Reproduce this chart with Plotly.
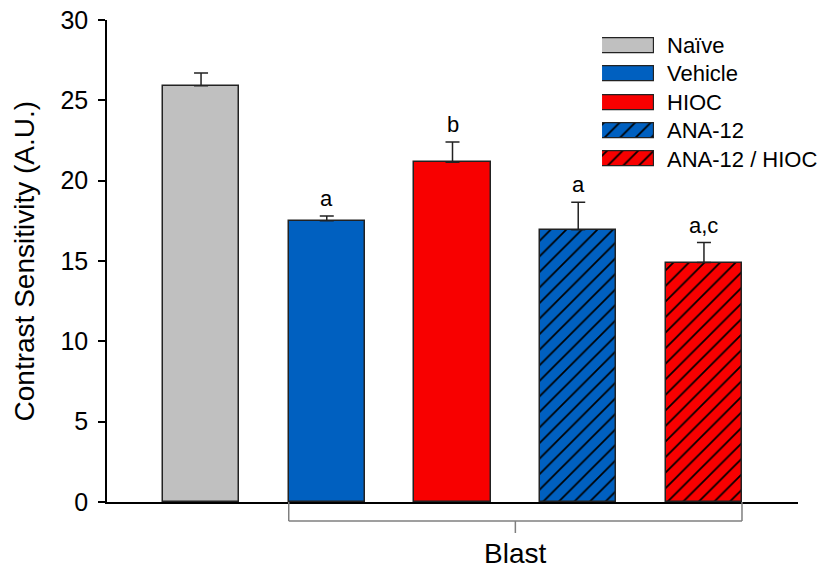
import plotly.graph_objects as go

groups = ["Naïve", "Vehicle", "HIOC", "ANA-12", "ANA-12 / HIOC"]
means = [25.9, 17.5, 21.15, 16.95, 14.9]
sem = [0.8, 0.3, 1.25, 1.7, 1.25]
letters = ["", "a", "b", "a", "a,c"]
colors = ["#C0C0C0", "#0060C0", "#F80000", "#0060C0", "#F80000"]
hatch = ["", "", "", "/", "/"]
blast_label = "Blast"
y_title = "Contrast Sensitivity (A.U.)"
y_ticks = [0, 5, 10, 15, 20, 25, 30]

FONT = "Arial, Liberation Sans, sans-serif"
BAR_W = 0.605
xpos = list(range(len(groups)))
n = len(groups)


def pat(i):
    return dict(shape=hatch[i], fgcolor="#000000", bgcolor=colors[i], fgopacity=1,
                fillmode="replace", size=11, solidity=0.16)


fig = go.Figure()

for i in range(n):
    # main bar
    fig.add_trace(go.Bar(
        x=[xpos[i]], y=[means[i]], width=BAR_W, name=groups[i],
        marker=dict(color=colors[i], line=dict(color="#222222", width=1.5), pattern=pat(i)),
        error_y=dict(type="data", symmetric=False, array=[sem[i]], arrayminus=[0],
                     color="#222222", thickness=1.5, width=7),
        showlegend=False, hoverinfo="skip",
    ))
    # custom legend box on a hidden axis pair
    fig.add_trace(go.Bar(
        x=[1], y=[xpos[i]], base=0, orientation="h", width=0.53,
        xaxis="x2", yaxis="y2", name=groups[i],
        marker=dict(color=colors[i], line=dict(color="#222222", width=1.2), pattern=pat(i)),
        showlegend=False, hoverinfo="skip",
    ))

annotations = []
for i, g in enumerate(groups):
    annotations.append(dict(x=1, y=i, xref="x2", yref="y2", text=g, showarrow=False,
                            xanchor="left", yanchor="middle", xshift=11,
                            font=dict(family=FONT, size=22, color="#000000")))
for i, t in enumerate(letters):
    if t:
        annotations.append(dict(x=i, y=means[i] + sem[i], xref="x", yref="y", text=t,
                                showarrow=False, xanchor="center", yanchor="bottom", yshift=3,
                                font=dict(family=FONT, size=22, color="#000000")))

# y-axis title
annotations.append(dict(x=-0.1195, y=0.5, xref="paper", yref="paper", text=y_title,
                        textangle=-90, showarrow=False, xanchor="center", yanchor="middle",
                        font=dict(family=FONT, size=28, color="#000000")))

# Blast bracket under groups 1..4
bx0 = xpos[1] - BAR_W / 2
bx1 = xpos[-1] + BAR_W / 2
bxc = (xpos[1] + xpos[-1]) / 2
yb = -0.0394
shapes = [
    dict(type="line", xref="x", yref="paper", x0=bx0, x1=bx1, y0=yb, y1=yb,
         line=dict(color="#7f7f7f", width=1.5)),
    dict(type="line", xref="x", yref="paper", x0=bx0, x1=bx0, y0=0, y1=yb,
         line=dict(color="#7f7f7f", width=1.5)),
    dict(type="line", xref="x", yref="paper", x0=bx1, x1=bx1, y0=0, y1=yb,
         line=dict(color="#7f7f7f", width=1.5)),
    dict(type="line", xref="x", yref="paper", x0=bxc, x1=bxc, y0=yb, y1=-0.0643,
         line=dict(color="#7f7f7f", width=1.5)),
]
annotations.append(dict(x=bxc, y=-0.106, xref="x", yref="paper", text=blast_label,
                        showarrow=False, xanchor="center", yanchor="middle",
                        font=dict(family=FONT, size=28, color="#000000")))

fig.update_layout(
    width=826, height=569,
    margin=dict(l=107, r=28, t=20, b=67, autoexpand=False),
    paper_bgcolor="white", plot_bgcolor="white",
    font=dict(family=FONT, color="#000000"),
    bargap=0, barmode="overlay", showlegend=False,
    xaxis=dict(range=[-0.748, 4.748], showline=True, linecolor="#000000", linewidth=1.5,
               showticklabels=False, ticks="", showgrid=False, zeroline=False,
               fixedrange=True, automargin=False),
    yaxis=dict(range=[0, 30], tickvals=y_ticks, showline=True, linecolor="#000000",
               linewidth=1.5, ticks="outside", ticklen=7, tickwidth=1.5, tickcolor="#000000",
               showgrid=False, zeroline=False, ticklabelstandoff=5, automargin=False,
               tickfont=dict(family=FONT, size=25, color="#000000"), fixedrange=True),
    xaxis2=dict(domain=[0.7164, 0.7916], range=[0, 1], visible=False, anchor="y2",
                fixedrange=True),
    yaxis2=dict(domain=[0.6817, 0.9766], range=[4.5, -0.5], visible=False, anchor="x2",
                fixedrange=True),
    annotations=annotations,
    shapes=shapes,
)

fig.write_html("out.html", config={"displayModeBar": False},
               post_script="document.body.style.margin='0px';"
                           "document.body.style.overflow='hidden';")
